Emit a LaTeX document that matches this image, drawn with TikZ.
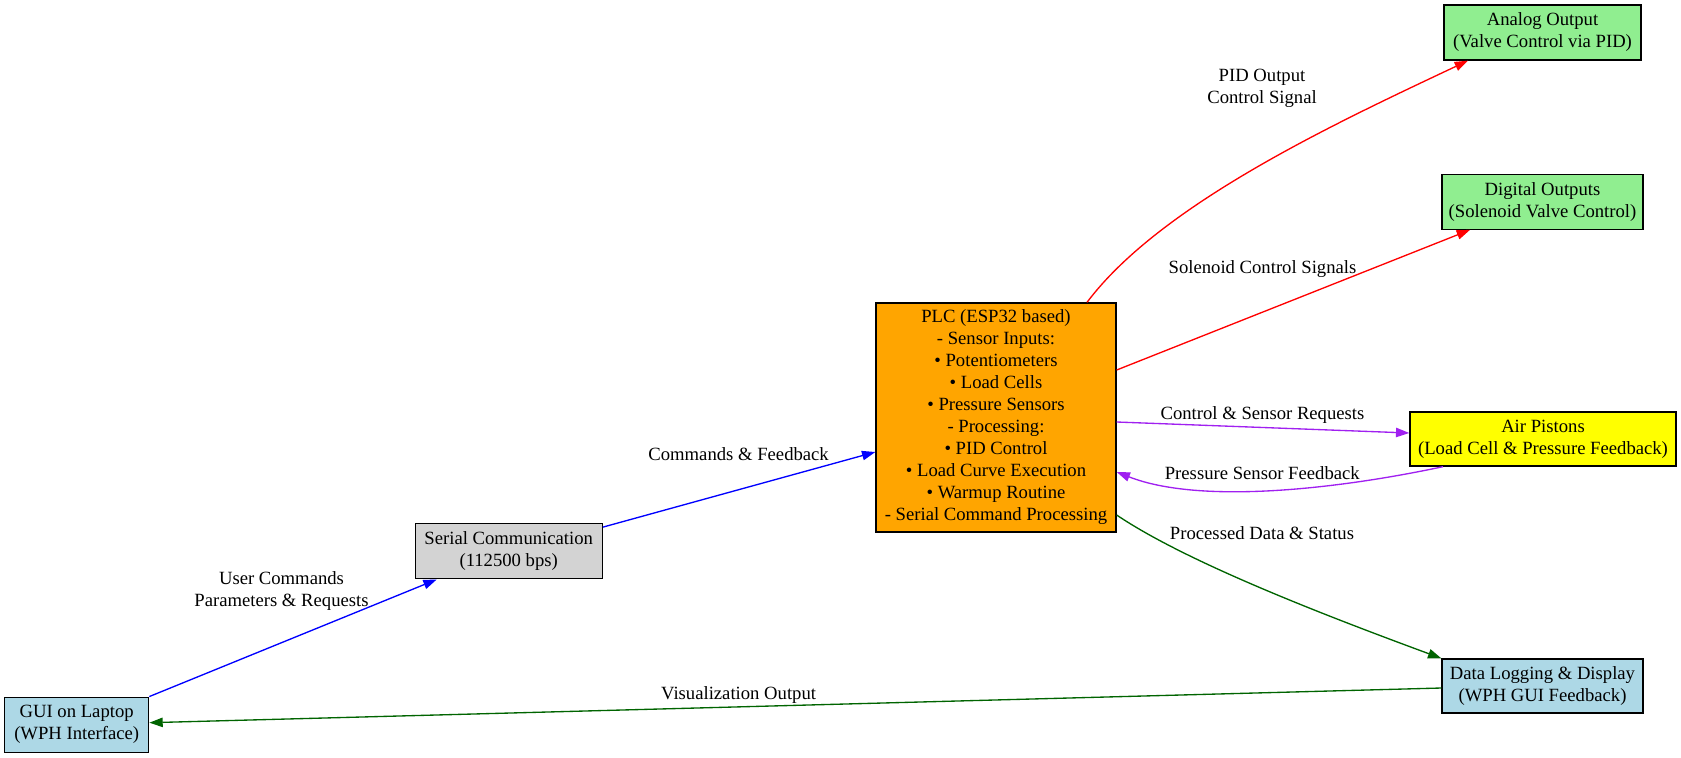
\documentclass[tikz,border=0pt]{standalone}
\usepackage{fontspec}
\setmainfont{Liberation Serif}
\usetikzlibrary{arrows.meta,calc}
\definecolor{nlblue}{RGB}{173,216,230}
\definecolor{nlgrey}{RGB}{211,211,211}
\definecolor{norange}{RGB}{255,165,0}
\definecolor{nlgreen}{RGB}{144,238,144}
\definecolor{nyellow}{RGB}{255,255,0}
\definecolor{epurple}{RGB}{160,32,240}
\definecolor{egreen}{RGB}{0,100,0}
\begin{document}
\begin{tikzpicture}[x=0.75pt,y=-0.75pt,
  box/.style={draw=black, line width=1pt, inner sep=0pt, align=center,
    font=\fontsize{14pt}{16.5pt}\selectfont},
  lbl/.style={align=center, inner sep=0pt, font=\fontsize{14pt}{16.5pt}\selectfont},
  arr/.style={line width=1pt, -{Triangle[length=10pt,width=7pt]}}]
\useasboundingbox (0,0) rectangle (1681,757);
% nodes
\node[box, fill=nlblue, minimum width=108pt, minimum height=41.25pt] (gui) at (76.7,724.7)
  {GUI on Laptop\\(WPH Interface)};
\node[box, fill=nlgrey, minimum width=140.25pt, minimum height=41.25pt] (serial) at (508.7,551.3)
  {Serial Communication\\(112500 bps)};
\node[box, fill=norange, minimum width=180pt, minimum height=171.75pt] (plc) at (996,417.5)
  {PLC (ESP32 based)\\- Sensor Inputs:\\\textbullet{} Potentiometers\\\textbullet{} Load Cells\\\textbullet{} Pressure Sensors\\- Processing:\\\textbullet{} PID Control\\\textbullet{} Load Curve Execution\\\textbullet{} Warmup Routine\\- Serial Command Processing};
\node[box, fill=nlgreen, minimum width=147.75pt, minimum height=41.25pt] (analog) at (1542.5,32.5)
  {Analog Output\\(Valve Control via PID)};
\node[box, fill=nlgreen, minimum width=150.75pt, minimum height=41.25pt] (digital) at (1542.5,201.7)
  {Digital Outputs\\(Solenoid Valve Control)};
\node[box, fill=nyellow, minimum width=199.5pt, minimum height=40.5pt] (air) at (1543,439)
  {Air Pistons\\(Load Cell \& Pressure Feedback)};
\node[box, fill=nlblue, minimum width=150.75pt, minimum height=40.5pt] (data) at (1542.5,686)
  {Data Logging \& Display\\(WPH GUI Feedback)};
% edges
\draw[arr, blue] (gui.north east) -- ($(serial.south)+(-72,0)$);
\draw[arr, blue] ($(serial.north east)+(0,4)$) -- ($(plc.west)+(0,34.5)$);
\draw[arr, red] ($(plc.north)+(91,0)$) .. controls +(73,-97) and +(-138,65) .. ($(analog.south)+(-74.5,0)$);
\draw[arr, red] ($(plc.east)+(0,-47.5)$) -- ($(digital.south)+(-72.5,0)$);
\draw[arr, epurple] ($(plc.east)+(0,4.5)$) -- ($(air.west)+(0,-6)$);
\draw[arr, epurple] ($(air.south)+(-100,0)$) .. controls +(-103,22) and +(84,33) .. ($(plc.east)+(0,54.5)$);
\draw[arr, egreen] ($(plc.east)+(0,97.5)$) .. controls +(71,48) and +(-111,-41) .. (data.north west);
\draw[arr, egreen] ($(data.west)+(0,2)$) -- ($(gui.east)+(0,-2)$);
% labels
\node[lbl] (l1) at (281.5,591) {User Commands\\Parameters \& Requests};
\node[lbl] (l2) at (738.6,454.5) {Commands \& Feedback};
\node[lbl] (l3) at (1262,88.7) {PID Output\\Control Signal};
\node[lbl] (l4) at (1262.5,269.3) {Solenoid Control Signals};
\node[lbl] (l5) at (1262.5,415) {Control \& Sensor Requests};
\node[lbl] (l6) at (1262.3,473.3) {Pressure Sensor Feedback};
\node[lbl] (l7) at (1262,533) {Processed Data \& Status};
\node[lbl] (l8) at (738.6,694.7) {Visualization Output};
\end{tikzpicture}
\end{document}
